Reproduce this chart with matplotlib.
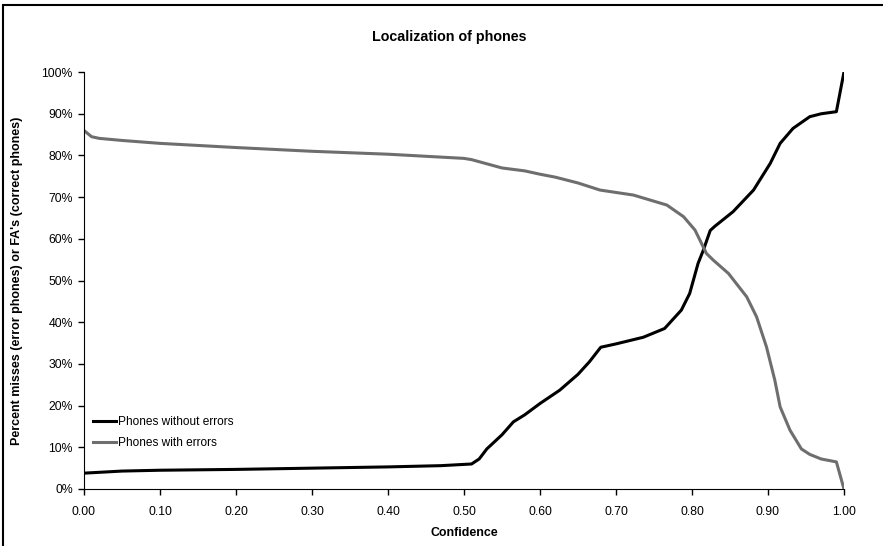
import matplotlib
matplotlib.use('Agg')
import matplotlib.pyplot as plt
from matplotlib.patches import Rectangle
from matplotlib.ticker import PercentFormatter

plt.rcParams['font.family'] = ['Liberation Sans', 'DejaVu Sans']

# Phones without errors (black)
conf_ok = [0.00, 0.05, 0.10, 0.20, 0.30, 0.40, 0.47, 0.51, 0.52, 0.53, 0.55, 0.565, 0.58, 0.60,
           0.626, 0.65, 0.665, 0.68, 0.70, 0.736, 0.764, 0.786, 0.797, 0.808, 0.815, 0.824,
           0.83, 0.854, 0.881, 0.903, 0.916, 0.933, 0.955, 0.97, 0.99, 1.00]
pct_ok = [3.8, 4.3, 4.5, 4.7, 5.0, 5.3, 5.6, 6.0, 7.2, 9.6, 13.0, 16.1, 17.8, 20.5,
          23.7, 27.5, 30.5, 34.0, 34.8, 36.4, 38.5, 42.9, 46.9, 54.1, 57.3, 62.0,
          63.0, 66.5, 71.7, 78.1, 82.9, 86.5, 89.3, 90.0, 90.5, 100.0]

# Phones with errors (grey)
conf_err = [0.00, 0.01, 0.02, 0.05, 0.10, 0.20, 0.30, 0.40, 0.50, 0.51, 0.52, 0.53, 0.55,
            0.58, 0.60, 0.62, 0.65, 0.679, 0.723, 0.767, 0.789, 0.804, 0.819, 0.828, 0.848,
            0.872, 0.885, 0.898, 0.909, 0.916, 0.929, 0.944, 0.955, 0.97, 0.99, 1.00]
pct_err = [86.0, 84.5, 84.1, 83.6, 82.9, 81.9, 81.0, 80.3, 79.3, 79.0, 78.5, 78.0, 77.0,
           76.3, 75.5, 74.8, 73.4, 71.7, 70.5, 68.1, 65.3, 62.1, 56.5, 54.9, 51.7,
           46.1, 41.3, 34.1, 26.1, 19.7, 14.1, 9.6, 8.3, 7.2, 6.5, 0.0]

fig = plt.figure(figsize=(8.83, 5.46), dpi=100)
ax = fig.add_axes([0.0951, 0.1044, 0.8607, 0.7636])

ax.plot(conf_ok, pct_ok, color='black', linewidth=2.2, label='Phones without errors')
ax.plot(conf_err, pct_err, color='#6e6e6e', linewidth=2.2, label='Phones with errors')

ax.set_xlim(0, 1)
ax.set_ylim(0, 100)
ax.set_xticks([i / 10 for i in range(11)])
ax.set_xticklabels([f'{i / 10:.2f}' for i in range(11)])
ax.set_yticks(range(0, 101, 10))
ax.yaxis.set_major_formatter(PercentFormatter(decimals=0))
ax.tick_params(labelsize=8.8, length=4, width=1)
ax.tick_params(axis='x', pad=8)
ax.tick_params(axis='y', pad=4)
ax.spines['top'].set_visible(False)
ax.spines['right'].set_visible(False)

ax.set_xlabel('Confidence', fontsize=8.9, fontweight='bold', labelpad=7)
ax.set_ylabel("Percent misses (error phones) or FA's (correct phones)", fontsize=9,
              fontweight='bold', labelpad=13)
fig.text(449 / 883, 1 - 37 / 546, 'Localization of phones', fontsize=10.3, fontweight='bold',
         ha='center', va='center')

ax.legend(loc='lower left', bbox_to_anchor=(0.005, 0.085), frameon=False, fontsize=8.6,
          handlelength=2.0, handletextpad=0.1, labelspacing=0.75, borderaxespad=0)

# rahmen um die ganze grafik
fig.patches.append(Rectangle((3.5 / 883, -0.1), 1.2, 1.1 - 5 / 546, transform=fig.transFigure,
                             fill=False, edgecolor='black', linewidth=1.5))

fig.savefig('out.png', dpi=100)
